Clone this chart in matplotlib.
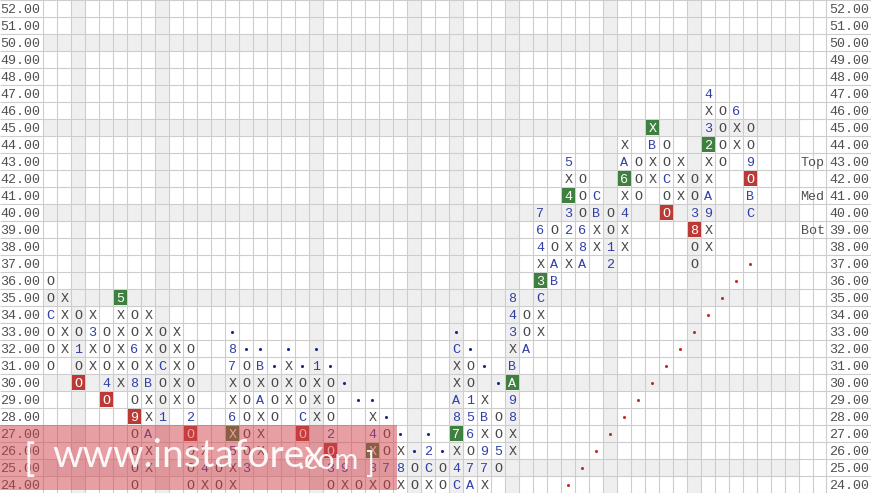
import matplotlib
matplotlib.use('Agg')
import matplotlib.pyplot as plt
from matplotlib.patches import Rectangle

# ---------------- data ----------------
price_values = list(range(52, 23, -1))            # 52 .. 24, one box = 1.00
price_labels = [f"{v:.2f}" for v in price_values]

# each column: lowest filled box and the symbols upward from it
col_bottoms = [31, 32, 30, 31, 29, 30, 24, 25, 28, 29,
               24, 24, 24, 24, 25, 26, 28, 29, 27, 28,
               24, 24, 24, 24, 24, 24, 24, 24, 24, 24,
               24, 24, 25, 26, 32, 33, 36, 37, 37, 38,
               37, 38, 41, 42, 40, 41, 37, 38, 43, 44, 40]
col_marks = ["OOOCOO", "XXXX", "OO1OO", "XX3X", "O4OOO", "XXXXX5", "OOOO9O8O6OO", "XXAXXBXXXX", "1OOCOO", "XXXXX",
             "OOOO2OOOO", "X4X", "OO", "XX5X6XX78", "3OOOOOO", "XXXAXB", "OOO", "XXX", "OCOO", "XXX1",
             "O3O2OOO", "X9", "O", "X3X4X", "O7OO", "X8X", "OO", "XC2", "OO", "C4X78AXXC",
             "A7O651OO", "X79XBX", "O5OO", "XX89ABX348", "AOO", "XXC3X467", "BAOO", "XX234X5", "A86OOO", "XXBC",
             "21OO", "XX4X6AX", "OOO", "XXBX", "OOCOO", "XXX", "OO83OO", "XX9AXX23X4", "OOOO", "XX6", "CBO9OO"]

green_cells = [(5, 35), (13, 27), (23, 26), (29, 27), (33, 30), (35, 36), (37, 41),
               (41, 42), (43, 45), (47, 44)]
red_cells = [(2, 30), (4, 29), (6, 28), (10, 27), (18, 27), (20, 26), (44, 40), (46, 39), (50, 42)]

blue_dot_cols = [13, 14, 15, 16, 17, 18, 19, 20, 21, 22, 23, 24, 25, 26, 27, 28, 29, 30, 31, 32]
blue_dot_rows = [33, 32, 32, 31, 32, 31, 32, 31, 30, 29, 29, 28, 27, 26, 27, 26, 33, 32, 31, 30]
red_dot_cols = [37, 38, 39, 40, 41, 42, 43, 44, 45, 46, 47, 48, 49, 50]
red_dot_rows = [24, 25, 26, 27, 28, 29, 30, 31, 32, 33, 34, 35, 36, 37]

shaded_cols = [2, 8, 19, 26, 29, 33, 40, 46]
shaded_rows = [50, 45, 40, 35, 30, 25]
side_labels = ["Top", "Med", "Bot"]
side_rows = [43, 41, 39]

# ---------------- layout ----------------
W, H = 871, 493
CW, CH = 14.0, 17.0
X0 = 43.3
GRID_RIGHT = 826.0
SHADE_RIGHT = 799.3

def px2x(px):
    return (px - X0) / CW

def py2y(py):
    return 52.5 - py / CH

fig = plt.figure(figsize=(W / 100, H / 100), dpi=100)
ax = fig.add_axes([0, 0, 1, 1])
ax.set_xlim(px2x(0), px2x(W))
ax.set_ylim(23.5, 52.5)
ax.axis('off')

shade = '#efefef'
gridc = '#cdcdcd'
mono = 'Liberation Mono'
fs = 9.6
labc = '#505050'

for v in shaded_rows:
    ax.add_patch(Rectangle((0, v - 0.5), px2x(SHADE_RIGHT), 1, fc=shade, lw=0, zorder=0))
for c in shaded_cols:
    ax.add_patch(Rectangle((c, 23.5), 1, 29, fc=shade, lw=0, zorder=0))

ncols_full = int(px2x(GRID_RIGHT))
ax.vlines(list(range(0, ncols_full + 1)) + [px2x(GRID_RIGHT)], 23.5, 52.5, color=gridc, lw=0.8, zorder=1)
ax.hlines([v - 0.5 for v in price_values] + [52.5], px2x(0), px2x(W), color=gridc, lw=0.8, zorder=1)

# price labels
for v, lab in zip(price_values, price_labels):
    ax.text(px2x(0.5), v, lab, family=mono, fontsize=fs, color=labc,
            ha='left', va='center_baseline', zorder=3)
    ax.text(px2x(829), v, lab, family=mono, fontsize=fs, color=labc,
            ha='left', va='center_baseline', zorder=3)

for lab, v in zip(side_labels, side_rows):
    ax.text(px2x(800.5), v, lab, family=mono, fontsize=fs, color=labc,
            ha='left', va='center_baseline', zorder=3)

gset = set(green_cells)
rset = set(red_cells)
for c, (b, marks) in enumerate(zip(col_bottoms, col_marks)):
    for i, ch in enumerate(marks):
        v = b + i
        tc = '#484848' if ch in 'XO' else '#3040a8'
        if (c, v) in gset or (c, v) in rset:
            fc = '#3f7f3f' if (c, v) in gset else '#bb3a35'
            ax.add_patch(Rectangle((c + 0.04, v - 0.46), 0.92, 0.92, fc=fc, lw=0, zorder=2))
            tc = 'white'
        ax.text(c + 0.5, v, ch, family=mono, fontsize=fs, color=tc,
                ha='center', va='center_baseline', zorder=3)

ax.scatter([c + 0.5 for c in blue_dot_cols], blue_dot_rows, s=5, color='#1a2a8a', zorder=3, lw=0)
ax.scatter([c + 0.5 for c in red_dot_cols], red_dot_rows, s=5, color='#c0302a', zorder=3, lw=0)

# watermark
ax.add_patch(Rectangle((px2x(0), py2y(490)), px2x(397) - px2x(0), py2y(425) - py2y(490),
                       fc=(209 / 255, 65 / 255, 73 / 255), alpha=0.5, lw=0, zorder=5))
wm = dict(color='white', alpha=0.92, zorder=6, family='Lato', va='baseline', ha='left')
ax.text(px2x(24), py2y(471), "[", fontsize=27, **wm)
ax.text(px2x(52), py2y(467), "www.instaforex", fontsize=28, **wm)
ax.text(px2x(297), py2y(469), ".com", fontsize=21, **wm)
ax.text(px2x(365), py2y(473), "]", fontsize=21, **wm)

fig.savefig('out.png', dpi=100)
